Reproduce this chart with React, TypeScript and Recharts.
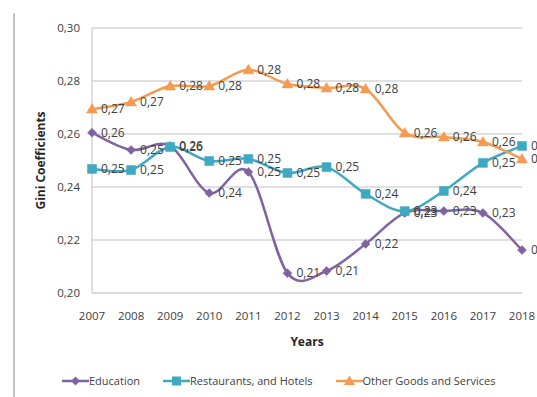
import { LineChart, Line, XAxis, YAxis, CartesianGrid, Legend, LabelList } from 'recharts'

const years = ['2007', '2008', '2009', '2010', '2011', '2012', '2013', '2014', '2015', '2016', '2017', '2018']
const education = [0.2605, 0.254, 0.2555, 0.2377, 0.2457, 0.2075, 0.2083, 0.2185, 0.2302, 0.2309, 0.2302, 0.2162]
const restaurants = [0.2468, 0.2464, 0.2551, 0.2498, 0.2506, 0.2453, 0.2475, 0.2374, 0.2309, 0.2385, 0.2491, 0.2555]
const otherGoods = [0.2694, 0.2721, 0.2781, 0.2781, 0.2842, 0.2789, 0.2774, 0.277, 0.2604, 0.2589, 0.257, 0.2506]
const yTicks = [0.2, 0.22, 0.24, 0.26, 0.28, 0.3]

const data = years.map((year, i) => ({
  year,
  education: education[i],
  restaurants: restaurants[i],
  otherGoods: otherGoods[i],
}))

const FONT = '"Open Sans", sans-serif'
const PURPLE = '#7f63a1'
const TEAL = '#3fa9c1'
const ORANGE = '#f59a4f'

const comma = (v: number) => v.toFixed(2).replace('.', ',')

// Excel-like smoothed line (Catmull-Rom through the points)
function smoothCurve(context: any) {
  let pts: number[][] = []
  return {
    areaStart() {},
    areaEnd() {},
    lineStart() { pts = [] },
    point(x: number, y: number) { pts.push([+x, +y]) },
    lineEnd() {
      if (!pts.length) return
      context.moveTo(pts[0][0], pts[0][1])
      for (let i = 0; i < pts.length - 1; i++) {
        const p0 = pts[i - 1] || pts[i]
        const p1 = pts[i]
        const p2 = pts[i + 1]
        const p3 = pts[i + 2] || p2
        const t = 1 / 6
        context.bezierCurveTo(
          p1[0] + (p2[0] - p0[0]) * t, p1[1] + (p2[1] - p0[1]) * t,
          p2[0] - (p3[0] - p1[0]) * t, p2[1] - (p3[1] - p1[1]) * t,
          p2[0], p2[1],
        )
      }
    },
  }
}

function markerPath(shape: string, cx: number, cy: number) {
  if (shape === 'diamond') return `M${cx},${cy - 4.5}L${cx + 4.5},${cy}L${cx},${cy + 4.5}L${cx - 4.5},${cy}Z`
  if (shape === 'square') return `M${cx - 4.5},${cy - 4.5}h9v9h-9Z`
  return `M${cx},${cy - 5.5}L${cx + 5.5},${cy + 4}L${cx - 5.5},${cy + 4}Z`
}

const makeDot = (shape: string, color: string) => (props: any) => {
  const { cx, cy, index } = props
  if (cx == null || cy == null) return <g key={index} />
  return <path key={index} d={markerPath(shape, cx, cy)} fill={color} stroke={color} strokeWidth={0.5} />
}

const legendItems = [
  { name: 'Education', color: PURPLE, shape: 'diamond' },
  { name: 'Restaurants, and Hotels', color: TEAL, shape: 'square' },
  { name: 'Other Goods and Services', color: ORANGE, shape: 'triangle' },
]

function ChartLegend() {
  return (
    <div style={{ display: 'flex', alignItems: 'center', gap: 23, paddingLeft: 48, fontFamily: FONT, fontSize: 11, color: '#404040' }}>
      {legendItems.map(item => (
        <div key={item.name} style={{ display: 'flex', alignItems: 'center' }}>
          <svg width={27} height={12}>
            <line x1={0} y1={6} x2={27} y2={6} stroke={item.color} strokeWidth={2.5} />
            <path d={markerPath(item.shape, 13.5, 6)} fill={item.color} />
          </svg>
          <span>{item.name}</span>
        </div>
      ))}
    </div>
  )
}

const labelStyle = { fontFamily: FONT, fontSize: 12, fill: '#404040' }

export default function App() {
  return (
    <div style={{ position: 'fixed', left: 0, top: 0, width: 537, height: 397, background: '#fff', overflow: 'hidden' }}>
      <style>{'html, body { overflow: hidden; }'}</style>
      <div style={{ position: 'absolute', left: 13, top: 13, bottom: 0, width: 2, background: '#c4c4c4' }} />
      <LineChart width={537} height={397} data={data} margin={{ top: 28, right: 15, left: 14, bottom: 4 }}>
        <CartesianGrid vertical={false} stroke="#d6d6d6" strokeWidth={1.5} />
        <XAxis
          dataKey="year"
          height={80}
          tickLine={false}
          tickMargin={13}
          axisLine={{ stroke: '#d6d6d6', strokeWidth: 1.5 }}
          tick={{ fontFamily: FONT, fontSize: 11.5, fill: '#404040' }}
          interval={0}
          label={{ value: 'Years', position: 'insideTop', offset: 44, style: { fontFamily: FONT, fontSize: 12, fontWeight: 'bold', fill: '#262626' } }}
        />
        <YAxis
          width={78}
          domain={[0.2, 0.3]}
          ticks={yTicks}
          tickFormatter={comma}
          tickLine={false}
          tickMargin={6}
          axisLine={{ stroke: '#d6d6d6', strokeWidth: 1.5 }}
          tick={{ fontFamily: FONT, fontSize: 11.5, fill: '#404040' }}
          label={({ viewBox }: any) => (
            <text
              x={viewBox.x + 26}
              y={viewBox.y + viewBox.height / 2}
              transform={`rotate(-90, ${viewBox.x + 26}, ${viewBox.y + viewBox.height / 2})`}
              textAnchor="middle"
              dominantBaseline="central"
              style={{ fontFamily: FONT, fontSize: 12, fontWeight: 'bold', fill: '#262626' }}
            >
              Gini Coefficients
            </text>
          )}
        />
        <Legend verticalAlign="bottom" height={20} content={() => <ChartLegend />} />
        <Line dataKey="education" name="Education" type={smoothCurve as any} stroke={PURPLE} strokeWidth={2.5} dot={makeDot('diamond', PURPLE)} activeDot={false} isAnimationActive={false}>
          <LabelList dataKey="education" position="right" offset={9} formatter={(v: any) => comma(Number(v))} style={labelStyle} />
        </Line>
        <Line dataKey="restaurants" name="Restaurants, and Hotels" type={smoothCurve as any} stroke={TEAL} strokeWidth={2.5} dot={makeDot('square', TEAL)} activeDot={false} isAnimationActive={false}>
          <LabelList dataKey="restaurants" position="right" offset={9} formatter={(v: any) => comma(Number(v))} style={labelStyle} />
        </Line>
        <Line dataKey="otherGoods" name="Other Goods and Services" type={smoothCurve as any} stroke={ORANGE} strokeWidth={2.5} dot={makeDot('triangle', ORANGE)} activeDot={false} isAnimationActive={false}>
          <LabelList dataKey="otherGoods" position="right" offset={9} formatter={(v: any) => comma(Number(v))} style={labelStyle} />
        </Line>
      </LineChart>
    </div>
  )
}
